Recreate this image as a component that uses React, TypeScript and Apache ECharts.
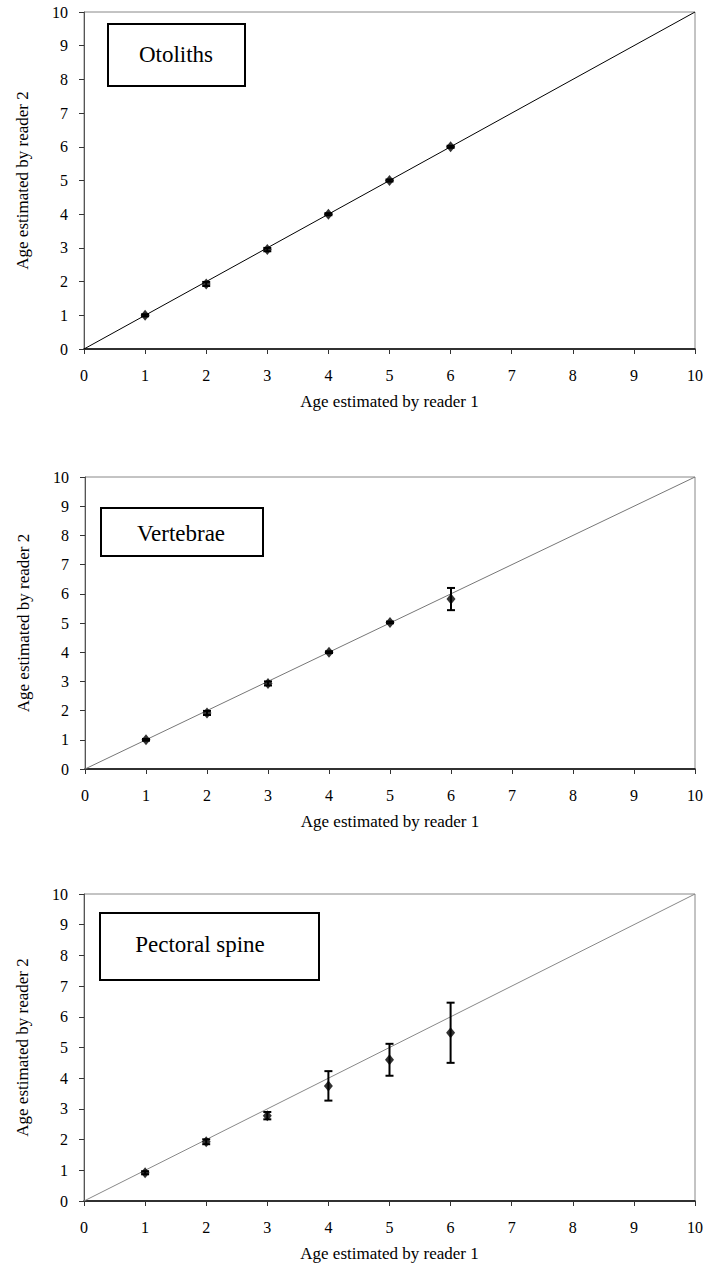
import React, { useEffect, useRef } from "react";
import * as echarts from "echarts";

const ages = [1, 2, 3, 4, 5, 6];
const otolithMeans = [1.0, 1.93, 2.95, 4.0, 5.0, 6.0];
const otolithErr = [0.03, 0.06, 0.05, 0.03, 0.03, 0.03];
const vertebraeMeans = [1.0, 1.92, 2.93, 4.0, 5.02, 5.82];
const vertebraeErr = [0.03, 0.07, 0.07, 0.03, 0.03, 0.38];
const spineMeans = [0.92, 1.93, 2.78, 3.75, 4.6, 5.48];
const spineErr = [0.05, 0.08, 0.12, 0.48, 0.52, 0.98];
const panelTitles = ["Otoliths", "Vertebrae", "Pectoral spine"];
const xName = "Age estimated by reader 1";
const yName = "Age estimated by reader 2";
const axisMin = 0;
const axisMax = 10;
const axisStep = 1;

const FONT = "'Liberation Serif', 'Times New Roman', serif";

export default function App() {
  const ref = useRef<HTMLDivElement>(null);
  useEffect(() => {
    if (!ref.current) return;
    const chart = echarts.init(ref.current, undefined, { renderer: "svg" });
    const grids = [
      { left: 84, top: 12, width: 611, height: 337 },
      { left: 85, top: 477, width: 610, height: 292 },
      { left: 84, top: 894, width: 611, height: 307 },
    ];
    const means = [otolithMeans, vertebraeMeans, spineMeans];
    const errs = [otolithErr, vertebraeErr, spineErr];
    const diagColors = ["#000", "#777", "#888"];
    const boxes = [
      { x: 108, y: 24, w: 137, h: 62, tx: 176, ty: 54 },
      { x: 101, y: 508, w: 162, h: 48, tx: 181, ty: 533 },
      { x: 100, y: 913, w: 219, h: 67, tx: 200, ty: 944 },
    ];

    const xAxes = grids.map((_, i) => ({
      type: "value",
      gridIndex: i,
      min: axisMin,
      max: axisMax,
      interval: axisStep,
      name: xName,
      nameLocation: "middle",
      nameGap: 44,
      nameTextStyle: { fontFamily: FONT, fontSize: 17, color: "#000" },
      axisLine: { show: true, onZero: false, lineStyle: { color: "#000", width: 1.5 } },
      axisTick: { show: true, inside: false, length: 5, lineStyle: { color: "#333" } },
      axisLabel: { fontFamily: FONT, fontSize: 16, color: "#000", margin: 18 },
      splitLine: { show: false },
    }));
    const yAxes = grids.map((_, i) => ({
      type: "value",
      gridIndex: i,
      min: axisMin,
      max: axisMax,
      interval: axisStep,
      name: yName,
      nameLocation: "middle",
      nameGap: 53,
      nameRotate: 90,
      nameTextStyle: { fontFamily: FONT, fontSize: 17, color: "#000" },
      axisLine: { show: true, onZero: false, lineStyle: { color: "#555", width: 1 } },
      axisTick: { show: true, inside: false, length: 5, lineStyle: { color: "#333" } },
      axisLabel: { fontFamily: FONT, fontSize: 16, color: "#000", margin: 16 },
      splitLine: { show: false },
    }));

    const series: any[] = [];
    grids.forEach((_, i) => {
      series.push({
        type: "line",
        xAxisIndex: i,
        yAxisIndex: i,
        data: [
          [axisMin, axisMin],
          [axisMax, axisMax],
        ],
        symbol: "none",
        lineStyle: { color: diagColors[i], width: 1 },
        silent: true,
        z: 1,
      });
      series.push({
        type: "custom",
        xAxisIndex: i,
        yAxisIndex: i,
        data: ages.map((a, j) => [a, means[i][j] - errs[i][j], means[i][j] + errs[i][j]]),
        encode: { x: 0, y: [1, 2] },
        renderItem: (params: any, api: any) => {
          const x = api.value(0);
          const top = api.coord([x, api.value(2)]);
          const bot = api.coord([x, api.value(1)]);
          const w = 4;
          const st = { stroke: "#000", lineWidth: 2 };
          return {
            type: "group",
            children: [
              { type: "line", shape: { x1: top[0], y1: top[1], x2: bot[0], y2: bot[1] }, style: st },
              { type: "line", shape: { x1: top[0] - w, y1: top[1], x2: top[0] + w, y2: top[1] }, style: st },
              { type: "line", shape: { x1: bot[0] - w, y1: bot[1], x2: bot[0] + w, y2: bot[1] }, style: st },
            ],
          };
        },
        z: 2,
      });
      series.push({
        type: "scatter",
        xAxisIndex: i,
        yAxisIndex: i,
        data: ages.map((a, j) => [a, means[i][j]]),
        symbol: "diamond",
        symbolSize: [9, 11],
        itemStyle: { color: "#000" },
        z: 3,
      });
    });

    const graphic: any[] = [];
    boxes.forEach((b, i) => {
      graphic.push({
        type: "rect",
        shape: { x: b.x, y: b.y, width: b.w, height: b.h },
        style: { fill: "#fff", stroke: "#000", lineWidth: 2 },
        z: 10,
      });
      graphic.push({
        type: "text",
        x: b.tx,
        y: b.ty,
        style: {
          text: panelTitles[i],
          align: "center",
          verticalAlign: "middle",
          font: "23px 'Liberation Serif', 'Times New Roman', serif",
          fill: "#000",
        },
        z: 11,
      });
    });

    chart.setOption({
      animation: false,
      backgroundColor: "#fff",
      textStyle: { fontFamily: FONT },
      grid: grids.map((g) => ({ ...g, show: true, borderColor: "#888", borderWidth: 1, backgroundColor: "transparent" })),
      xAxis: xAxes,
      yAxis: yAxes,
      series,
      graphic,
    });
    return () => chart.dispose();
  }, []);
  return (
    <div
      ref={ref}
      style={{ position: "absolute", left: 0, top: 0, width: 707, height: 1272, background: "#fff" }}
    />
  );
}
